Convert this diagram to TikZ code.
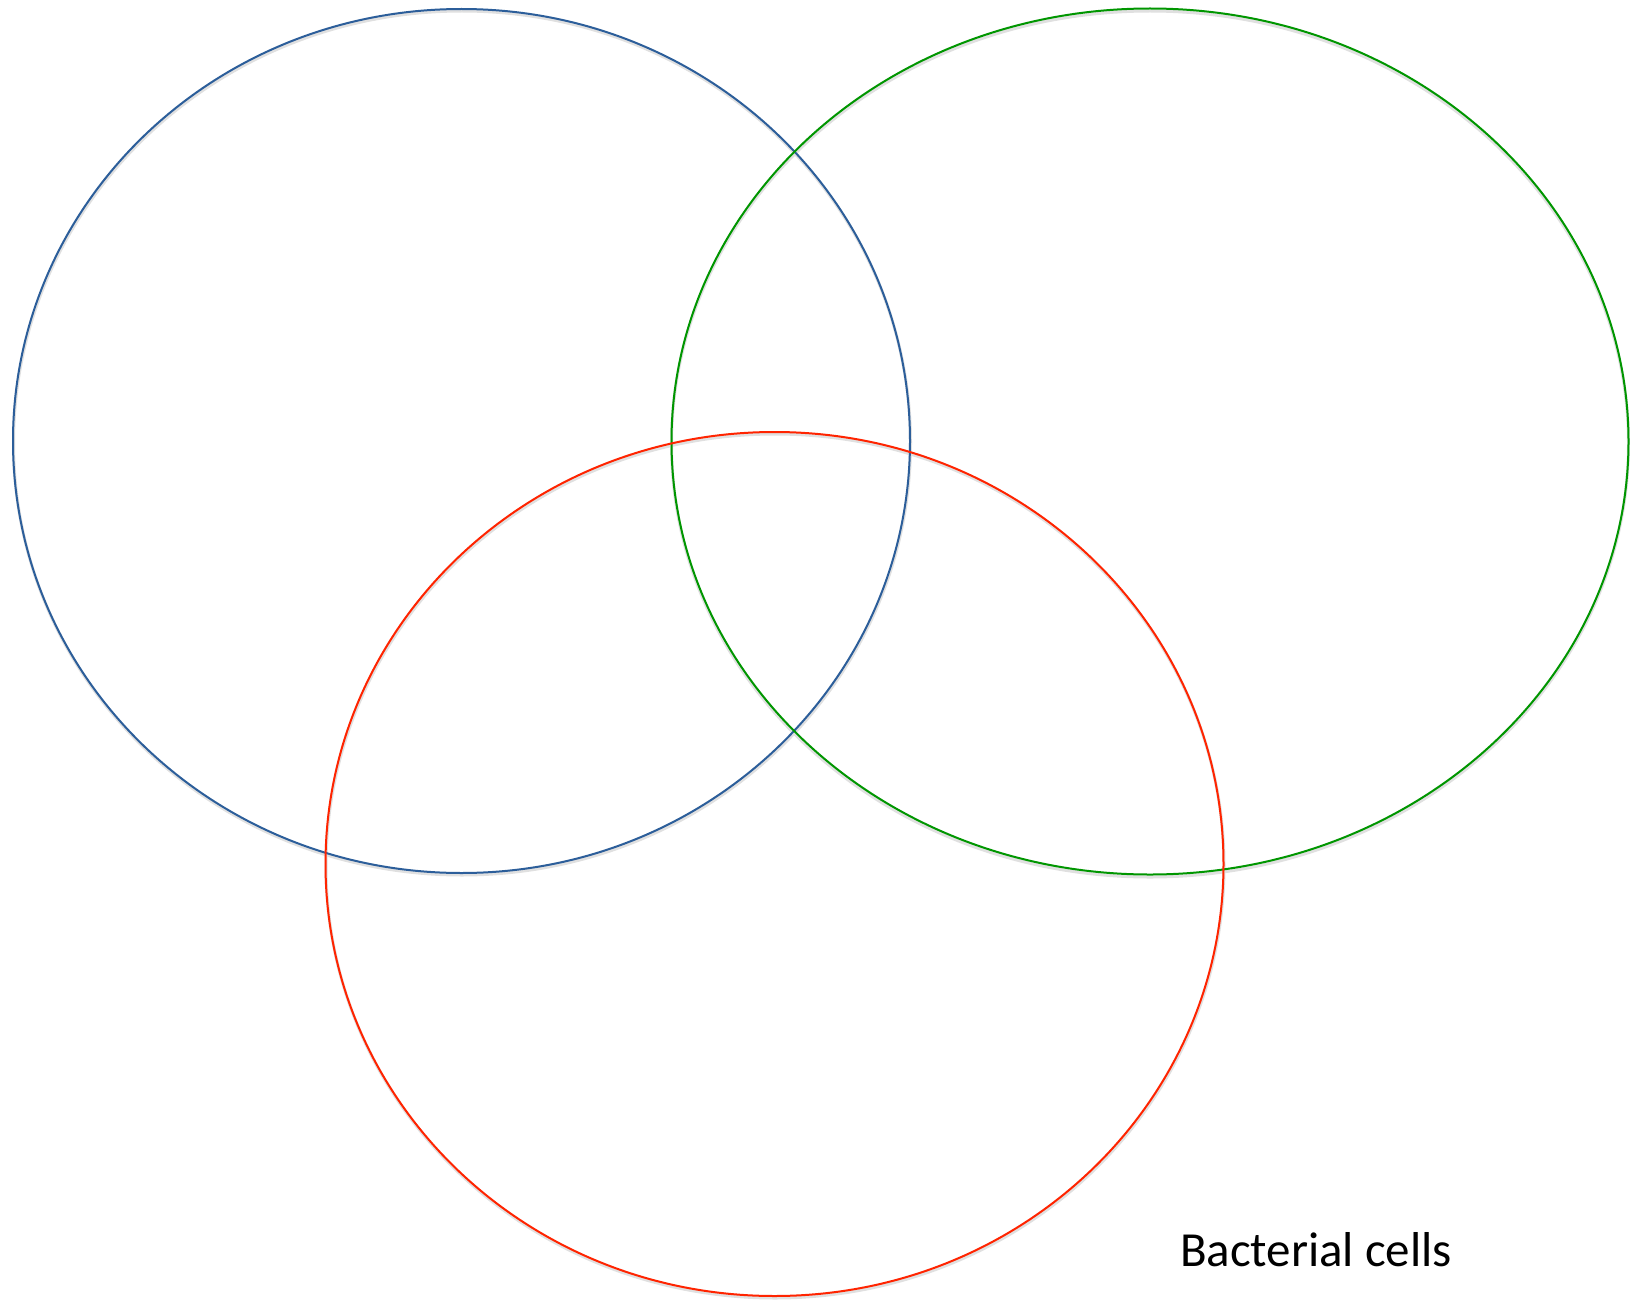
\documentclass[tikz,border=0pt]{standalone}
\usepackage{fontspec}
\setmainfont{Carlito}
\definecolor{vblue}{RGB}{44,94,154}
\definecolor{vgreen}{RGB}{0,150,0}
\definecolor{vred}{RGB}{255,36,0}
\begin{document}
\begin{tikzpicture}[x=1pt,y=-1pt,
  ring/.style={line width=2pt},
  shade/.style={line width=3pt, draw=black!12}]
\useasboundingbox (0,0) rectangle (1630,1303);
\fill[white] (0,0) rectangle (1630,1303);
% shadows
\draw[shade] (462,443) ellipse [x radius=448.5, y radius=432];
\draw[shade] (1150,444) ellipse [x radius=478.5, y radius=433];
\draw[shade] (775,866) ellipse [x radius=449, y radius=432];
% rings
\draw[ring, vblue] (461.5,441) ellipse [x radius=448.5, y radius=432];
\draw[ring, vgreen] (1150,441.5) ellipse [x radius=478.5, y radius=433];
\draw[ring, vred] (774.5,864) ellipse [x radius=449, y radius=432];
\node[font=\fontsize{49}{58}\selectfont, anchor=base, inner sep=0pt] (label) at (1316,1266) {Bacterial cells};
\end{tikzpicture}
\end{document}
